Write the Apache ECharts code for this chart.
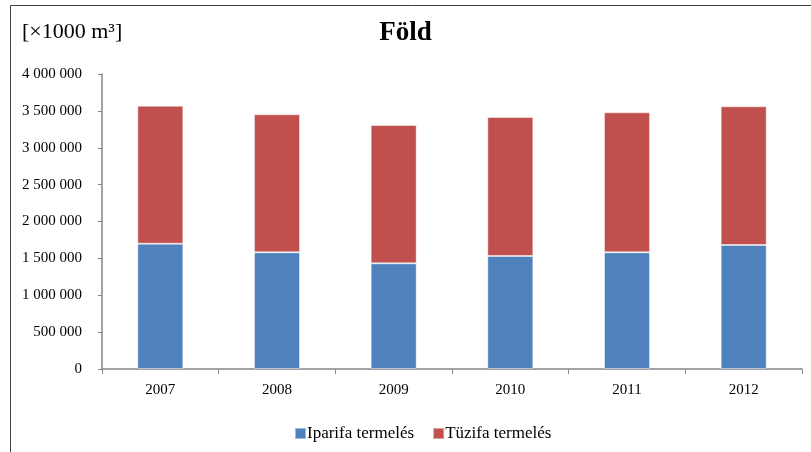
<!DOCTYPE html>
<html>
<head>
<meta charset="utf-8">
<script src="https://cdn.jsdelivr.net/npm/echarts@6/dist/echarts.min.js"></script>
<style>
  html, body { margin: 0; padding: 0; background: #fff; }
  #main { width: 811px; height: 452px; }
</style>
</head>
<body>
<div id="main"></div>
<script>
const years = ['2007', '2008', '2009', '2010', '2011', '2012'];
// Iparifa termelés - alsó, kék
const iparifa = [1699000, 1582000, 1433000, 1532000, 1582000, 1681000];
// Tüzifa termelés - felső, piros
const tuzifa = [1871000, 1872000, 1875000, 1885000, 1898000, 1881000];
const seriesNames = ['Iparifa termelés', 'Tüzifa termelés'];

const font = '"Liberation Serif", "DejaVu Serif", serif';
const axisColor = '#868686';

function fmt(v) {
    // 3 500 000 formátum
    return String(v).replace(/\B(?=(\d{3})+(?!\d))/g, ' ');
}

const chart = echarts.init(document.getElementById('main'));
chart.setOption({
    animation: false,
    backgroundColor: '#fff',
    textStyle: { fontFamily: font },
    title: {
        text: 'Föld',
        left: 'center',
        top: 15,
        textStyle: { fontFamily: font, fontSize: 27, fontWeight: 'bold', color: '#000' }
    },
    graphic: [{
        type: 'rect',
        shape: { x: 10.5, y: 5.5, width: 820, height: 470 },
        style: { fill: 'none', stroke: '#404040', lineWidth: 1 },
        silent: true
    }, {
        type: 'text',
        left: 22,
        top: 21,
        style: { text: '[×1000 m³]', font: '22px ' + font, fill: '#000' }
    }],
    legend: {
        bottom: 5,
        left: 289,
        itemWidth: 11,
        itemHeight: 11,
        itemGap: 18,
        icon: 'rect',
        textStyle: { fontFamily: font, fontSize: 17, color: '#000', padding: [0, 0, 0, -4] },
        data: seriesNames
    },
    grid: { left: 102, right: 9, top: 74, bottom: 83 },
    xAxis: {
        type: 'category',
        data: years,
        axisLine: { lineStyle: { color: axisColor, width: 1.5 } },
        axisTick: { show: true, length: 5, lineStyle: { color: axisColor } },
        axisLabel: { fontFamily: font, fontSize: 15, color: '#000', margin: 14 }
    },
    yAxis: {
        type: 'value',
        min: 0,
        max: 4000000,
        interval: 500000,
        axisLine: { show: true, lineStyle: { color: axisColor, width: 1.5 } },
        axisTick: { show: true, length: 4, lineStyle: { color: axisColor } },
        splitLine: { show: false },
        axisLabel: { fontFamily: font, fontSize: 15, color: '#000', margin: 20, formatter: fmt }
    },
    series: [{
        name: seriesNames[0],
        type: 'bar',
        stack: 'total',
        barWidth: 46,
        data: iparifa,
        itemStyle: { color: '#4F81BD', borderColor: 'rgba(255,255,255,0.45)', borderWidth: 1 }
    }, {
        name: seriesNames[1],
        type: 'bar',
        stack: 'total',
        barWidth: 46,
        data: tuzifa,
        itemStyle: { color: '#C0504D', borderColor: 'rgba(255,255,255,0.45)', borderWidth: 1 }
    }]
});
</script>
</body>
</html>
